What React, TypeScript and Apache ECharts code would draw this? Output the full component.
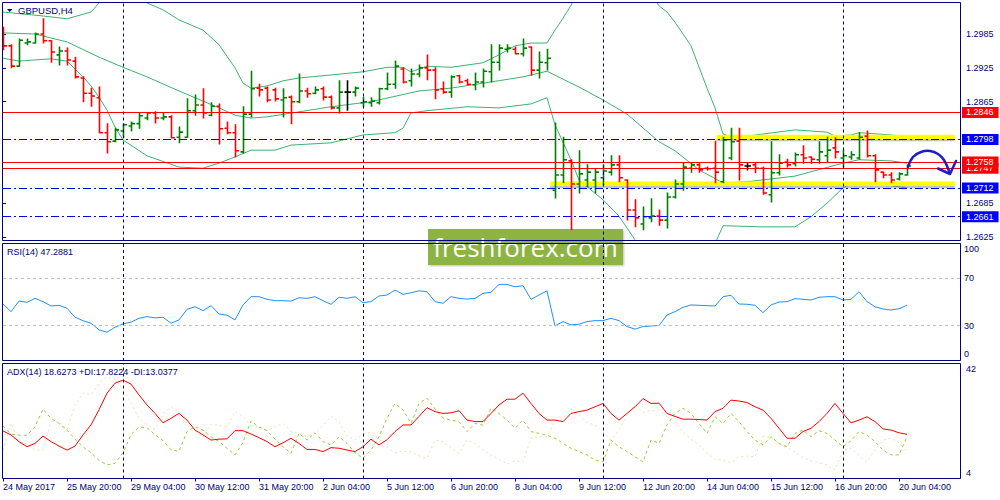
import React, { useEffect, useRef } from "react";
import * as echarts from "echarts";

const FONT = "Liberation Sans, Arial, sans-serif";
const NAVY = "#000080";

// ---- time axis ----
const labelBars = [0, 8, 16, 24, 32, 40, 48, 56, 64, 72, 80, 88, 96, 104, 112];
const timeLabels = [
  "24 May 2017", "25 May 20:00", "29 May 04:00", "30 May 12:00", "31 May 20:00",
  "2 Jun 04:00", "5 Jun 12:00", "6 Jun 20:00", "8 Jun 04:00", "9 Jun 12:00",
  "12 Jun 20:00", "14 Jun 04:00", "15 Jun 12:00", "16 Jun 20:00", "20 Jun 04:00",
];
const weekStarts = [15, 45, 75, 105];

// ---- price bars (H4) ----
const open = [1.2992,1.2964,1.2928,1.2969,1.2969,1.2985,1.2973,1.2948,1.2955,1.2937,
1.2907,1.2880,1.2872,1.2810,1.2795,1.2813,1.2822,1.2826,1.2836,1.2845,
1.2836,1.2838,1.2802,1.2802,1.2849,1.2859,1.2841,1.2857,1.2818,1.2810,
1.2776,1.2843,1.2889,1.2889,1.2886,1.2868,1.2873,1.2865,1.2884,1.2880,
1.2888,1.2873,1.2854,1.2882,1.2882,1.2863,1.2863,1.2863,1.2888,1.2896,
1.2923,1.2902,1.2914,1.2925,1.2921,1.2888,1.2882,1.2911,1.2902,1.2895,
1.2900,1.2918,1.2935,1.2958,1.2958,1.2950,1.2962,1.2921,1.2934,1.2708,
1.2735,1.2760,1.2719,1.2726,1.2726,1.2730,1.2740,1.2753,1.2726,1.2673,
1.2648,1.2659,1.2662,1.2655,1.2696,1.2719,1.2747,1.2753,1.2747,1.2747,
1.2723,1.2765,1.2795,1.2751,1.2753,1.2747,1.2700,1.2739,1.2758,1.2755,
1.2771,1.2767,1.2762,1.2769,1.2783,1.2765,1.2767,1.2765,1.2804,1.2769,
1.2740,1.2735,1.2728,1.2735];
const high = [1.2997,1.2966,1.2976,1.2976,1.2987,1.3012,1.2973,1.2962,1.2960,1.2944,
1.2909,1.2889,1.2891,1.2826,1.2818,1.2826,1.2829,1.2845,1.2845,1.2847,
1.2845,1.2840,1.2820,1.2870,1.2877,1.2888,1.2863,1.2861,1.2829,1.2824,
1.2856,1.2919,1.2896,1.2891,1.2889,1.2888,1.2875,1.2914,1.2889,1.2891,
1.2891,1.2875,1.2902,1.2902,1.2891,1.2873,1.2872,1.2889,1.2916,1.2937,
1.2925,1.2923,1.2930,1.2948,1.2925,1.2900,1.2911,1.2912,1.2905,1.2916,
1.2923,1.2966,1.2966,1.2966,1.2962,1.2976,1.2962,1.2953,1.2958,1.2827,
1.2802,1.2762,1.2778,1.2753,1.2746,1.2753,1.2769,1.2769,1.2726,1.2691,
1.2678,1.2693,1.2673,1.2703,1.2726,1.2756,1.2756,1.2755,1.2749,1.2795,
1.2802,1.2818,1.2818,1.2756,1.2756,1.2749,1.2794,1.2771,1.2763,1.2774,
1.2787,1.2767,1.2794,1.2802,1.2801,1.2779,1.2776,1.2810,1.2813,1.2771,
1.2740,1.2739,1.2739,1.2753];
const low = [1.2957,1.2925,1.2928,1.2966,1.2969,1.2969,1.2935,1.2930,1.2930,1.2907,
1.2865,1.2857,1.2810,1.2774,1.2794,1.2802,1.2813,1.2818,1.2833,1.2827,
1.2833,1.2801,1.2792,1.2802,1.2841,1.2836,1.2840,1.2790,1.2808,1.2767,
1.2774,1.2838,1.2875,1.2865,1.2866,1.2838,1.2826,1.2863,1.2873,1.2879,
1.2868,1.2852,1.2845,1.2850,1.2875,1.2856,1.2857,1.2861,1.2886,1.2889,
1.2898,1.2893,1.2909,1.2904,1.2870,1.2880,1.2873,1.2898,1.2895,1.2886,
1.2891,1.2900,1.2921,1.2953,1.2950,1.2946,1.2912,1.2907,1.2921,1.2694,
1.2721,1.2638,1.2703,1.2714,1.2703,1.2717,1.2735,1.2723,1.2655,1.2643,
1.2638,1.2652,1.2646,1.2641,1.2694,1.2708,1.2740,1.2740,1.2744,1.2721,
1.2721,1.2762,1.2726,1.2744,1.2739,1.2701,1.2687,1.2735,1.2749,1.2751,
1.2756,1.2756,1.2756,1.2758,1.2765,1.2749,1.2763,1.2763,1.2767,1.2723,
1.2730,1.2721,1.2726,1.2735];
const close = [1.2964,1.2928,1.2974,1.2971,1.2985,1.2973,1.2953,1.2955,1.2939,1.2909,
1.2880,1.2875,1.2810,1.2794,1.2815,1.2824,1.2826,1.2840,1.2845,1.2836,
1.2838,1.2801,1.2811,1.2849,1.2859,1.2845,1.2857,1.2817,1.2810,1.2778,
1.2843,1.2888,1.2886,1.2868,1.2870,1.2872,1.2865,1.2884,1.2879,1.2886,
1.2873,1.2854,1.2882,1.2882,1.2889,1.2865,1.2866,1.2888,1.2896,1.2928,
1.2900,1.2914,1.2925,1.2921,1.2886,1.2882,1.2909,1.2900,1.2896,1.2900,
1.2919,1.2935,1.2960,1.2960,1.2950,1.2960,1.2921,1.2935,1.2942,1.2735,
1.2762,1.2719,1.2737,1.2740,1.2740,1.2742,1.2753,1.2730,1.2673,1.2659,
1.2661,1.2662,1.2655,1.2696,1.2719,1.2749,1.2753,1.2744,1.2746,1.2740,
1.2797,1.2794,1.2753,1.2751,1.2747,1.2703,1.2739,1.2756,1.2753,1.2771,
1.2765,1.2763,1.2776,1.2779,1.2776,1.2769,1.2771,1.2802,1.2769,1.2744,
1.2735,1.2726,1.2737,1.2751];

// ---- Bollinger bands as [bar, price] ----
const bbUpper = [[0,1.3024],[5,1.3017],[8,1.3012],[11,1.3024],[12,1.3040],[13,1.3059],[15,1.3067],[17,1.3059],[18,1.3040],[20,1.3028],[22,1.3010],[25,1.2992],[27,1.2966],[29,1.2925],[30,1.2898],[31,1.2889],[33,1.2893],[35,1.2902],[37,1.2907],[40,1.2911],[45,1.2918],[48,1.2926],[50,1.2926],[51,1.2918],[53,1.2928],[56,1.2926],[60,1.2934],[62,1.2948],[64,1.2964],[66,1.2969],[68,1.2969],[69,1.2992],[70,1.3013],[71,1.3036],[72,1.3063],[76,1.3090],[80,1.3081],[82,1.3035],[83,1.3024],[84,1.3006],[86,1.2964],[88,1.2889],[89,1.2854],[90,1.2808],[91,1.2802],[93,1.2804],[99,1.2815],[103,1.2811],[104,1.2804],[106,1.2806],[107,1.2810],[111,1.2806],[113,1.2801]];
const bbMiddle = [[0,1.2987],[4,1.2985],[8,1.2971],[12,1.2944],[15,1.2926],[18,1.2909],[22,1.2884],[27,1.2854],[29,1.2841],[31,1.2836],[33,1.2838],[37,1.2847],[41,1.2856],[46,1.2865],[52,1.2884],[56,1.2889],[61,1.2900],[65,1.2909],[68,1.2919],[69,1.2912],[72,1.2891],[75,1.2868],[78,1.2843],[82,1.2794],[84,1.2778],[87,1.2744],[90,1.2721],[93,1.2723],[99,1.2733],[105,1.2756],[107,1.2762],[111,1.2760],[113,1.2756]];
const bbLower = [[0,1.2942],[2,1.2937],[6,1.2941],[8,1.2937],[10,1.2909],[11,1.2893],[12,1.2873],[13,1.2850],[14,1.2820],[15,1.2797],[18,1.2769],[22,1.2749],[25,1.2747],[27,1.2756],[29,1.2767],[31,1.2779],[34,1.2779],[36,1.2788],[41,1.2792],[45,1.2806],[49,1.2810],[50,1.2818],[51,1.2845],[53,1.2849],[58,1.2856],[62,1.2854],[66,1.2861],[68,1.2872],[69,1.2824],[71,1.2762],[72,1.2726],[75,1.2691],[77,1.2662],[79,1.2620],[80,1.2602],[85,1.2581],[88,1.2593],[89,1.2613],[90,1.2645],[95,1.2643],[99,1.2643],[101,1.2661],[103,1.2685],[105,1.2712],[106,1.2719],[111,1.2716],[113,1.2712]];

// ---- horizontal levels ----
const redLevels = [1.2846, 1.2747, 1.2758];
const blueLevels = [1.2798, 1.2712, 1.2661];
const zoneFrom = [89.2, 68.4];
const zoneTo = [119, 119];
const zonePrice = [1.2802, 1.2719];
const priceTicks = [1.2625, 1.2685, 1.2865, 1.2925, 1.2985];

// ---- RSI(14) ----
const rsi14 = [48.3,41.8,50.8,49.7,53.1,50.3,46.6,47.2,44.7,37.1,
34.2,32.0,26.4,24.4,28.6,31.4,32.9,36.2,37.6,36.5,
37.1,32.0,34.8,43.8,46.0,42.7,46.9,39.9,38.8,34.8,
47.5,54.5,54.5,52.3,51.1,51.1,50.8,53.6,53.1,54.5,
51.1,48.0,54.0,53.1,54.5,49.4,50.3,55.1,55.9,60.1,
56.5,57.8,59.5,58.7,50.3,48.9,54.5,53.1,52.5,53.1,
57.3,58.2,64.9,64.9,62.9,63.8,52.3,55.9,59.5,29.7,
33.4,30.6,31.2,33.4,34.2,34.2,36.2,34.2,29.2,27.0,
29.2,29.7,30.0,39.0,41.8,45.5,47.5,47.2,46.9,46.6,
54.5,55.7,48.3,48.1,47.2,41.0,47.5,50.0,50.3,52.8,
52.3,51.7,54.0,54.5,54.5,51.7,52.3,58.7,50.3,46.0,
44.1,43.2,44.3,47.3];
const rsiLevels = [30, 70];
const rsiTicks = [0, 30, 70, 100];

// ---- ADX(14) ----
const adx = [19.7,18.4,16.2,14.5,15.6,18.0,16.2,14.7,13.4,14.7,
18.4,21.7,26.7,32.2,35.5,36.5,35.2,31.6,28.3,25.5,
22.4,23.9,25.5,23.3,20.0,18.4,16.7,17.0,17.1,19.8,
19.8,18.7,17.5,16.2,14.5,15.8,17.3,15.6,13.6,13.6,
12.9,14.2,14.0,13.4,12.9,14.5,17.0,15.1,16.8,19.5,
21.7,21.7,24.5,27.4,26.1,25.5,25.7,26.4,23.3,22.8,
22.8,25.5,28.3,30.2,30.2,32.2,28.8,25.5,23.3,23.3,
22.8,25.5,26.1,26.6,27.7,28.8,25.5,23.3,25.5,27.7,
30.4,28.8,28.9,25.5,24.5,23.6,23.6,23.5,23.3,26.1,
27.2,29.9,29.6,29.1,27.7,26.6,23.9,20.6,17.3,17.3,
19.5,20.6,22.8,25.5,28.8,25.5,22.4,23.3,24.4,22.8,
20.4,20.0,19.1,18.6];
const plusDI = [21.3,18.7,18.3,18.3,21.1,26.9,23.9,22.2,20.0,17.0,
14.5,12.5,10.0,8.5,9.0,12.5,18.5,21.0,20.8,18.5,
16.5,13.5,13.0,19.5,21.1,20.0,17.8,16.2,14.0,11.8,
16.0,23.0,21.0,19.8,17.0,14.5,12.3,18.9,16.7,19.1,
16.2,15.0,17.8,15.6,12.5,10.7,13.4,17.8,23.9,28.8,
26.7,22.2,28.8,30.5,27.0,24.0,23.3,22.8,19.5,22.2,
21.6,27.2,25.5,23.3,20.6,23.3,19.5,18.9,18.3,17.3,
15.6,14.0,12.9,11.8,10.1,9.5,16.7,14.5,12.9,11.2,
9.5,16.7,15.6,21.7,25.5,27.2,25.5,22.2,18.9,24.4,
22.2,25.5,22.8,19.5,16.7,15.1,17.8,15.6,14.5,18.9,
20.0,17.8,19.8,18.9,16.7,14.5,16.5,19.5,18.4,16.2,
13.4,11.8,11.8,17.8];
const minusDI = [13.4,22.2,15.6,15.6,13.4,13.4,22.8,22.8,20.0,28.3,
32.2,31.6,35.5,37.6,36.8,33.5,29.0,24.0,21.8,20.3,
25.5,27.7,25.8,21.5,20.0,17.5,22.0,21.5,21.1,26.1,
24.5,21.6,21.1,20.0,21.0,22.2,19.5,18.9,17.8,18.9,
21.5,24.5,22.8,18.0,16.7,18.5,19.5,17.0,14.5,12.5,
13.0,12.8,11.5,10.7,16.7,16.2,14.0,12.3,16.7,15.6,
13.4,11.8,10.3,8.8,9.8,9.5,17.3,17.8,17.8,23.0,
23.9,27.0,25.0,22.5,21.6,19.5,16.7,20.0,25.0,28.3,
25.8,26.4,26.6,24.5,22.2,19.5,17.0,15.1,12.3,10.3,
10.1,9.2,11.2,11.4,11.2,18.0,17.5,15.5,14.2,12.8,
11.0,9.8,9.2,8.5,6.8,13.4,14.0,11.8,9.5,13.4,
16.7,17.3,15.8,13.0];
const adxTicks = [4, 42];

export default function App() {
  const ref = useRef<HTMLDivElement>(null);

  useEffect(() => {
    document.body.style.margin = "0";
    if (!ref.current) return;
    const chart = echarts.init(ref.current, undefined, { renderer: "svg" });

    const weekLines = weekStarts.map((i) => ({ xAxis: i }));
    const weekLineStyle = { color: NAVY, type: [3, 3], width: 1 };

    const levelItems: any[] = [];
    const pushLevel = (v: number, color: string, dashed: boolean) =>
      levelItems.push({
        yAxis: v,
        lineStyle: { color, width: 1, type: dashed ? [8, 3, 2, 3] : "solid" },
        label: {
          show: true,
          position: "end",
          distance: 2,
          formatter: () => v.toFixed(4),
          color: "#FFFFFF",
          backgroundColor: color,
          fontSize: 9,
          fontFamily: FONT,
          lineHeight: 10,
          padding: [1, 5, 0, 4],
        },
      });
    pushLevel(redLevels[0], "#FF0000", false);
    pushLevel(blueLevels[0], "#0000FF", true);
    pushLevel(redLevels[1], "#FF0000", false);
    pushLevel(redLevels[2], "#FF0000", false);
    pushLevel(blueLevels[1], "#0000FF", true);
    pushLevel(blueLevels[2], "#0000FF", true);

    const bars = open.map((o, i) => [i, o, high[i], low[i], close[i]]);
    const zoneData = zonePrice.map((p, k) => [zoneFrom[k], zoneTo[k], p]);

    const axisFont = { color: NAVY, fontSize: 9, fontFamily: FONT };

    const option: any = {
      animation: false,
      textStyle: { fontFamily: FONT },
      grid: [
        { left: 3, right: 40, top: 2.5, height: 238 },
        { left: 3, right: 40, top: 243, height: 118 },
        { left: 3, right: 40, top: 363.5, height: 115 },
      ],
      xAxis: [0, 1, 2].map((k) => ({
        type: "value",
        gridIndex: k,
        min: 0,
        max: 119.625,
        axisLine: { show: false },
        splitLine: { show: false },
        axisTick:
          k === 2
            ? { show: true, customValues: labelBars, length: 3, lineStyle: { color: NAVY } }
            : { show: false },
        axisLabel:
          k === 2
            ? {
                show: true,
                customValues: labelBars,
                formatter: (v: number) => {
                  const idx = labelBars.indexOf(Math.round(v));
                  return idx >= 0 ? timeLabels[idx] : "";
                },
                align: "left",
                margin: 4,
                ...axisFont,
              }
            : { show: false },
      })),
      yAxis: [
        {
          type: "value",
          gridIndex: 0,
          position: "right",
          min: 1.26188,
          max: 1.30409,
          axisLine: { show: false },
          splitLine: { show: false },
          axisTick: { show: true, customValues: priceTicks, length: 3, lineStyle: { color: NAVY } },
          axisLabel: {
            customValues: priceTicks,
            formatter: (v: number) => v.toFixed(4),
            margin: 6,
            ...axisFont,
          },
        },
        {
          type: "value",
          gridIndex: 1,
          position: "right",
          min: 0,
          max: 100,
          axisLine: { show: false },
          splitLine: { show: false },
          axisTick: { show: true, customValues: [100], length: 3, lineStyle: { color: NAVY } },
          axisLabel: {
            customValues: rsiTicks,
            margin: 4,
            formatter: (v: number) => (v === 100 ? "{t|100}" : v === 0 ? "{b|0}" : "{n|" + v + "}"),
            rich: {
              t: { ...axisFont, padding: [12, 0, 0, 0] },
              b: { ...axisFont, padding: [0, 0, 15, 0] },
              n: { ...axisFont },
            },
          },
        },
        {
          type: "value",
          gridIndex: 2,
          position: "right",
          min: 4,
          max: 42,
          axisLine: { show: false },
          splitLine: { show: false },
          axisTick: { show: true, customValues: adxTicks, length: 3, lineStyle: { color: NAVY } },
          axisLabel: {
            customValues: adxTicks,
            margin: 6,
            formatter: (v: number) => (v === 42 ? "{t|42}" : "{b|4}"),
            rich: {
              t: { ...axisFont, padding: [11, 0, 0, 0] },
              b: { ...axisFont, padding: [0, 0, 12, 0] },
            },
          },
        },
      ],
      series: [
        {
          type: "line",
          xAxisIndex: 0,
          yAxisIndex: 0,
          data: bbMiddle,
          symbol: "none",
          lineStyle: { color: "#3CB371", width: 1 },
          z: 2,
          silent: true,
          markLine: {
            silent: true,
            precision: 4,
            symbol: ["none", "none"],
            data: levelItems,
          },
        },
        {
          type: "line",
          xAxisIndex: 0,
          yAxisIndex: 0,
          data: bbUpper,
          symbol: "none",
          lineStyle: { color: "#3CB371", width: 1 },
          z: 2,
          silent: true,
        },
        {
          type: "line",
          xAxisIndex: 0,
          yAxisIndex: 0,
          data: bbLower,
          symbol: "none",
          lineStyle: { color: "#3CB371", width: 1 },
          z: 2,
          silent: true,
        },
        {
          type: "custom",
          xAxisIndex: 0,
          yAxisIndex: 0,
          data: zoneData,
          encode: { x: [0, 1], y: 2 },
          clip: true,
          z: 3,
          silent: true,
          renderItem: (_p: any, api: any) => {
            const a = api.coord([api.value(0), api.value(2)]);
            const b = api.coord([api.value(1), api.value(2)]);
            return {
              type: "group",
              children: [
                {
                  type: "rect",
                  shape: { x: a[0], y: a[1] + 1.5, width: b[0] - a[0], height: 2.5 },
                  style: { fill: "rgba(120,120,120,0.45)" },
                },
                {
                  type: "rect",
                  shape: { x: a[0], y: a[1] - 2.5, width: b[0] - a[0], height: 4.5 },
                  style: { fill: "#FFFF00" },
                },
              ],
            };
          },
        },
        {
          type: "custom",
          xAxisIndex: 0,
          yAxisIndex: 0,
          data: bars,
          encode: { x: 0, y: [1, 2, 3, 4] },
          clip: true,
          z: 4,
          silent: true,
          renderItem: (_p: any, api: any) => {
            const i = api.value(0);
            const o = api.value(1);
            const h = api.value(2);
            const l = api.value(3);
            const c = api.value(4);
            const pH = api.coord([i, h]);
            const pL = api.coord([i, l]);
            const pO = api.coord([i, o]);
            const pC = api.coord([i, c]);
            const x = Math.round(pH[0]) + 0.5;
            const color = c > o ? "#008000" : c < o ? "#FF0000" : "#000000";
            const st = { stroke: color, lineWidth: 1.6 };
            return {
              type: "group",
              children: [
                { type: "line", shape: { x1: x, y1: pH[1] - 0.5, x2: x, y2: pL[1] + 0.5 }, style: st },
                { type: "line", shape: { x1: x - 3, y1: pO[1], x2: x, y2: pO[1] }, style: st },
                { type: "line", shape: { x1: x, y1: pC[1], x2: x + 3.5, y2: pC[1] }, style: st },
              ],
            };
          },
          markLine: {
            silent: true,
            symbol: ["none", "none"],
            label: { show: false },
            lineStyle: weekLineStyle,
            data: weekLines,
          },
        },
        {
          type: "line",
          xAxisIndex: 1,
          yAxisIndex: 1,
          data: rsi14.map((v, i) => [i, v]),
          symbol: "none",
          lineStyle: { color: "#1E90FF", width: 1 },
          silent: true,
          markLine: {
            silent: true,
            symbol: ["none", "none"],
            label: { show: false },
            data: [
              ...rsiLevels.map((v) => ({ yAxis: v, lineStyle: { color: "#C0C0C0", type: [3, 3], width: 1 } })),
              ...weekLines.map((w) => ({ ...w, lineStyle: weekLineStyle })),
            ],
          },
        },
        {
          type: "line",
          xAxisIndex: 2,
          yAxisIndex: 2,
          data: minusDI.map((v, i) => [i, v]),
          symbol: "none",
          lineStyle: { color: "#F5DEB3", width: 1, type: [2, 3] },
          silent: true,
          markLine: {
            silent: true,
            symbol: ["none", "none"],
            label: { show: false },
            lineStyle: weekLineStyle,
            data: weekLines,
          },
        },
        {
          type: "line",
          xAxisIndex: 2,
          yAxisIndex: 2,
          data: plusDI.map((v, i) => [i, v]),
          symbol: "none",
          lineStyle: { color: "#9ACD32", width: 1, type: [3, 3] },
          silent: true,
        },
        {
          type: "line",
          xAxisIndex: 2,
          yAxisIndex: 2,
          data: adx.map((v, i) => [i, v]),
          symbol: "none",
          lineStyle: { color: "#FF0000", width: 1 },
          silent: true,
        },
      ],
      graphic: [
        // panel frames
        { type: "rect", z: 50, silent: true, shape: { x: 2.5, y: 2.5, width: 958, height: 238 }, style: { fill: "none", stroke: NAVY, lineWidth: 1 } },
        { type: "rect", z: 50, silent: true, shape: { x: 2.5, y: 243.5, width: 958, height: 117 }, style: { fill: "none", stroke: NAVY, lineWidth: 1 } },
        { type: "rect", z: 50, silent: true, shape: { x: 2.5, y: 363.5, width: 958, height: 115 }, style: { fill: "none", stroke: NAVY, lineWidth: 1 } },
        // titles
        { type: "polygon", z: 60, silent: true, shape: { points: [[7, 9], [12.5, 9], [9.75, 12]] }, style: { fill: NAVY } },
        { type: "text", z: 60, silent: true, x: 18, y: 10.5, style: { text: "GBPUSD,H4", fill: NAVY, fontSize: 9.5, fontFamily: FONT, verticalAlign: "middle" } },
        { type: "text", z: 60, silent: true, x: 7, y: 252, style: { text: "RSI(14) 47.2881", fill: NAVY, fontSize: 9, fontFamily: FONT, verticalAlign: "middle" } },
        { type: "text", z: 60, silent: true, x: 7, y: 372, style: { text: "ADX(14) 18.6273 +DI:17.8224 -DI:13.0377", fill: NAVY, fontSize: 9, fontFamily: FONT, verticalAlign: "middle" } },
        // hand-drawn arrow
        {
          type: "polyline",
          z: 70,
          silent: true,
          shape: { points: [[908, 167], [913, 157], [921, 152], [930, 151], [938, 154], [944, 160], [949, 171]], smooth: 0.4 },
          style: { stroke: "#1E1EC8", lineWidth: 2.5, fill: "none", lineCap: "round", lineJoin: "round" },
        },
        {
          type: "polyline",
          z: 70,
          silent: true,
          shape: { points: [[938, 168.5], [950, 174], [956, 161]] },
          style: { stroke: "#1E1EC8", lineWidth: 2.5, fill: "none", lineCap: "round", lineJoin: "round" },
        },
        // watermark
        {
          type: "group",
          z: 100,
          silent: true,
          children: [
            {
              type: "rect",
              shape: { x: 428, y: 229, width: 195, height: 36 },
              style: { fill: "#8DB443", shadowColor: "rgba(0,0,0,0.25)", shadowBlur: 2, shadowOffsetX: 1, shadowOffsetY: 1 },
            },
            {
              type: "text",
              x: 525.5,
              y: 246.5,
              style: { text: "freshforex.com", fill: "#FFFFFF", fontSize: 26, fontFamily: "Open Sans, Noto Sans, sans-serif", align: "center", verticalAlign: "middle" },
            },
          ],
        },
      ],
    };

    chart.setOption(option);
    return () => chart.dispose();
  }, []);

  return <div ref={ref} style={{ width: 1000, height: 500 }} />;
}
